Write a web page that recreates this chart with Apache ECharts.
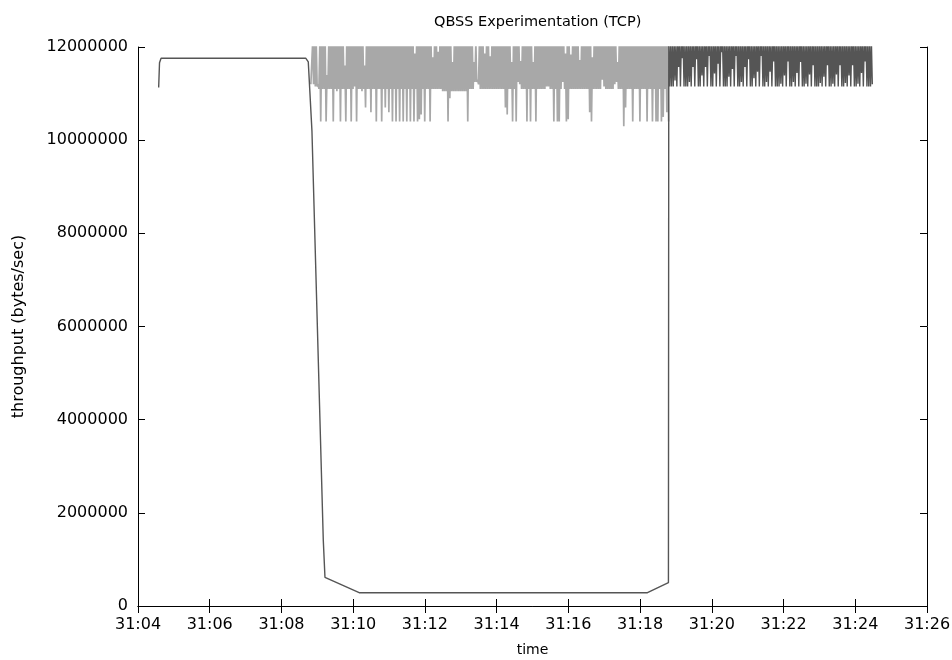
<!DOCTYPE html>
<html>
<head>
<meta charset="utf-8">
<script src="https://cdn.jsdelivr.net/npm/echarts@6/dist/echarts.min.js"></script>
<style>
  html, body { margin: 0; padding: 0; background: #ffffff; }
  #chart { width: 952px; height: 660px; }
</style>
</head>
<body>
<div id="chart"></div>
<script>
// ---- data (throughput values in MB/s, times in minutes after 31:00) ----
const SCALE = 1e6;
const xTickLabels = ['31:04','31:06','31:08','31:10','31:12','31:14','31:16','31:18','31:20','31:22','31:24','31:26'];

// Thin dark trace (QBSS flow), read point by point
const darkTimes = [4.576, 4.60, 4.643, 8.676, 8.748, 8.85, 9.166, 9.213, 10.167, 18.206, 18.79];
const darkVals  = [11.13, 11.66, 11.76, 11.76, 11.68, 10.2, 1.42, 0.616, 0.286, 0.286, 0.5];

// Dark dense oscillation after 31:18.8 (regular samples)
const darkOscStart = 18.8;
const darkOscStep = 0.025;
const darkOscVals = [
12.1,11.15,12.1,11.15,12.1,11.15,12.1,11.28,12.1,11.15,12.1,11.57,12.1,11.15,12.1,11.76,12.1,11.15,12.1,11.15,
12.1,11.15,12.1,11.25,12.1,11.15,12.1,11.57,12.1,11.15,12.1,11.74,12.1,11.15,12.1,11.15,12.1,11.39,12.1,11.15,
12.1,11.57,12.1,11.15,12.1,11.81,12.1,11.15,12.1,11.15,12.1,11.43,12.1,11.15,12.1,11.64,12.1,11.15,12.1,11.89,
12.1,11.15,12.1,11.15,12.1,11.15,12.1,11.36,12.1,11.15,12.1,11.53,12.1,11.15,12.1,11.81,12.1,11.15,12.1,11.15,
12.1,11.25,12.1,11.15,12.1,11.57,12.1,11.15,12.1,11.74,12.1,11.15,12.1,11.15,12.1,11.33,12.1,11.15,12.1,11.47,
12.1,11.15,12.1,11.81,12.1,11.15,12.1,11.15,12.1,11.25,12.1,11.15,12.1,11.47,12.1,11.15,12.1,11.69,12.1,11.15,
12.1,11.15,12.1,11.15,12.1,11.21,12.1,11.15,12.1,11.39,12.1,11.15,12.1,11.69,12.1,11.15,12.1,11.15,12.1,11.25,
12.1,11.15,12.1,11.44,12.1,11.15,12.1,11.68,12.1,11.15,12.1,11.15,12.1,11.21,12.1,11.15,12.1,11.41,12.1,11.15,
12.1,11.61,12.1,11.15,12.1,11.15,12.1,11.15,12.1,11.23,12.1,11.15,12.1,11.36,12.1,11.15,12.1,11.61,12.1,11.15,
12.1,11.15,12.1,11.21,12.1,11.15,12.1,11.41,12.1,11.15,12.1,11.61,12.1,11.15,12.1,11.15,12.1,11.23,12.1,11.15,
12.1,11.39,12.1,11.15,12.1,11.61,12.1,11.15,12.1,11.15,12.1,11.21,12.1,11.15,12.1,11.44,12.1,11.15,12.1,11.69,
12.1,11.15,12.1,11.15,12.1,11.15,12.1,11.2
];

// Light grey dense trace (competing flow), regular samples
const lightStart = 8.82;
const lightStep = 0.025;
const lightVals = [
11.2,11.2,12.1,11.2,12.1,11.15,12.1,11.15,11.2,11.1,12.1,10.4,12.1,11.1,12.1,11.1,12.1,10.4,11.4,11.1,
12.1,11.1,12.1,11.1,12.1,10.4,12.1,11.1,12.1,11.05,12.1,11.1,12.1,10.4,12.1,11.1,12.1,11.1,11.6,10.4,
12.1,11.1,12.1,11.1,12.1,10.4,12.1,11.1,12.1,11.15,12.1,10.4,12.1,11.1,12.1,11.1,12.1,11.05,12.1,11.1,
11.6,10.7,12.1,11.1,12.1,11.1,12.1,10.6,12.1,11.1,12.1,11.1,12.1,10.4,12.1,11.1,12.1,11.1,12.1,10.4,
12.1,11.1,12.1,10.7,12.1,11.1,12.1,10.6,12.1,11.1,12.1,10.4,12.1,11.1,12.1,10.4,12.1,11.1,12.1,10.4,
12.1,11.1,12.1,10.4,12.1,11.1,12.1,10.4,12.1,11.1,12.1,10.4,12.1,11.1,12.1,10.4,11.86,11.1,12.1,10.4,
12.1,10.45,12.1,10.55,12.1,11.1,12.1,10.4,12.1,11.1,12.1,11.1,12.1,10.4,12.1,11.1,11.78,11.1,12.1,11.1,
12.1,11.1,11.9,11.1,12.1,11.1,12.1,11.05,12.1,11.05,12.1,11.05,12.1,10.4,12.1,10.9,12.1,11.05,11.68,11.05,
12.1,11.05,12.1,11.05,12.1,11.05,12.1,11.05,12.1,11.05,12.1,11.05,12.1,11.05,12.1,10.4,12.1,11.1,12.1,11.1,
12.1,11.1,11.68,11.25,12.1,11.25,11.3,11.2,12.1,11.1,12.1,11.1,12.1,11.1,11.86,11.1,12.1,11.1,12.1,11.1,
11.8,11.1,12.1,11.1,12.1,11.1,12.1,11.1,12.1,11.1,12.1,11.1,12.1,11.1,12.1,11.1,12.1,10.7,12.1,10.55,
12.1,11.1,12.1,11.1,11.68,10.4,12.1,11.1,12.1,10.4,12.1,11.25,12.1,11.2,11.7,11.1,12.1,11.1,12.1,11.1,
12.1,10.4,12.1,11.1,12.1,10.4,12.1,11.1,11.68,11.1,12.1,10.4,12.1,11.1,12.1,11.1,12.1,11.1,12.1,11.1,
12.1,11.1,12.1,11.15,12.1,11.15,12.1,11.1,12.1,11.1,12.1,10.4,12.1,11.1,12.1,10.4,12.1,10.4,12.1,11.1,
12.1,11.25,12.1,11.1,11.86,10.4,12.1,10.45,12.1,11.1,11.84,11.1,12.1,11.1,12.1,11.1,12.1,11.1,12.1,11.1,
11.72,11.1,12.1,11.1,12.1,11.1,12.1,11.1,12.1,11.1,12.1,10.6,12.1,10.4,11.78,11.1,12.1,11.1,12.1,11.1,
12.1,11.1,12.1,11.1,12.1,11.3,12.1,11.15,12.1,11.1,12.1,11.1,12.1,11.1,12.1,11.1,12.1,11.1,12.1,11.2,
12.1,11.25,11.68,11.1,12.1,11.1,12.1,11.1,12.1,10.3,12.1,10.7,12.1,11.1,12.1,11.1,12.1,11.1,12.1,10.4,
12.1,11.1,12.1,11.1,12.1,11.1,12.1,10.4,12.1,11.1,12.1,11.1,12.1,11.1,12.1,10.4,12.1,11.1,12.1,11.1,
12.1,10.4,12.1,11.1,12.1,10.4,12.1,10.4,12.1,11.1,12.1,10.4,12.1,10.5,12.1,11.1,12.1,10.6,12.1,10.4
];

// ---- build series data ----
const lightData = lightVals.map((v, i) => [lightStart + i * lightStep, v * SCALE]);
const darkData = darkTimes.map((t, i) => [t, darkVals[i] * SCALE])
  .concat(darkOscVals.map((v, i) => [darkOscStart + i * darkOscStep, v * SCALE]));

const FONT = 'DejaVu Sans';
const chart = echarts.init(document.getElementById('chart'), null, { renderer: 'canvas' });

const axisLineStyle = { color: '#000', width: 1 };
const tickStyle = { show: true, inside: true, length: 7, lineStyle: { color: '#000', width: 1 } };

chart.setOption({
  animation: false,
  backgroundColor: '#ffffff',
  title: {
    text: 'QBSS Experimentation (TCP)',
    left: 429,
    top: 10,
    textStyle: { fontFamily: FONT, fontSize: 14.5, fontWeight: 'normal', color: '#000' }
  },
  grid: { left: 138, right: 25, top: 47, bottom: 54, containLabel: false, outerBoundsMode: 'none' },
  xAxis: [
    {
      type: 'value', min: 4, max: 26, interval: 2,
      name: 'time', nameLocation: 'middle', nameGap: 37,
      nameTextStyle: { fontFamily: FONT, fontSize: 14, color: '#000' },
      axisLine: { show: true, lineStyle: axisLineStyle },
      axisTick: tickStyle,
      axisLabel: {
        margin: 11, fontFamily: FONT, fontSize: 16, color: '#000',
        formatter: v => xTickLabels[Math.round((v - 4) / 2)]
      },
      splitLine: { show: false }
    },
    {
      type: 'value', position: 'top', min: 4, max: 26, interval: 2,
      axisLine: { show: true, lineStyle: axisLineStyle },
      axisTick: tickStyle,
      axisLabel: { show: false },
      splitLine: { show: false }
    }
  ],
  yAxis: [
    {
      type: 'value', min: 0, max: 12000000, interval: 2000000,
      name: 'throughput (bytes/sec)', nameLocation: 'middle', nameGap: 111, nameRotate: 90,
      nameTextStyle: { fontFamily: FONT, fontSize: 16, color: '#000' },
      axisLine: { show: true, lineStyle: axisLineStyle },
      axisTick: tickStyle,
      axisLabel: { margin: 10, fontFamily: FONT, fontSize: 16, color: '#000', formatter: v => String(v) },
      splitLine: { show: false }
    },
    {
      type: 'value', position: 'right', min: 0, max: 12000000, interval: 2000000,
      axisLine: { show: true, lineStyle: axisLineStyle },
      axisTick: tickStyle,
      axisLabel: { show: false },
      splitLine: { show: false }
    }
  ],
  series: [
    {
      name: 'competing', type: 'line', data: lightData,
      showSymbol: false, symbol: 'none', clip: true,
      lineStyle: { color: '#a8a8a8', width: 1.7 },
      z: 2
    },
    {
      name: 'qbss', type: 'line', data: darkData,
      showSymbol: false, symbol: 'none', clip: true,
      lineStyle: { color: '#555555', width: 1.4 },
      z: 3
    }
  ]
});
</script>
</body>
</html>
